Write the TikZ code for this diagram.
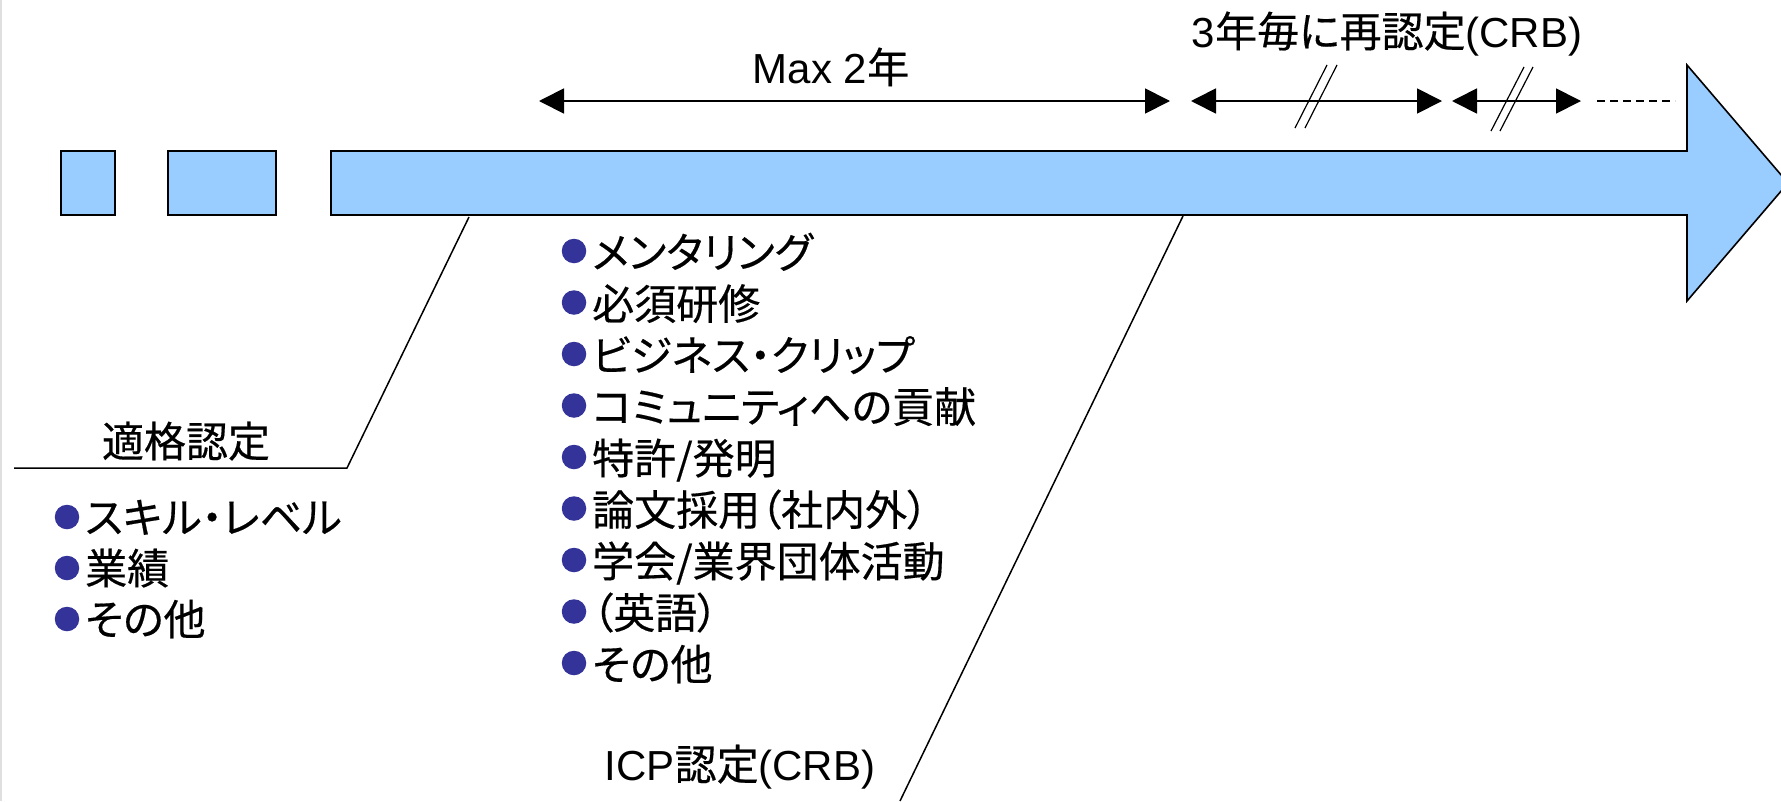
\documentclass[tikz,border=0pt]{standalone}
\usepackage{fontspec}
\setmainfont{Liberation Sans}
\newfontfamily\jp[RawFeature=+palt,FakeBold=0.4]{Noto Sans CJK JP}
\usetikzlibrary{arrows.meta}
\definecolor{barblue}{HTML}{99CCFF}
\definecolor{dotblue}{HTML}{333399}
\begin{document}
\begin{tikzpicture}[x=1pt,y=-1pt,
  bar/.style={draw=black,line width=1.6pt,fill=barblue,line join=miter},
  dimline/.style={line width=1.8pt,{Triangle[length=25pt,width=25pt]}-{Triangle[length=25pt,width=25pt]}},
  breakmark/.style={line width=1.2pt},
  leader/.style={line width=1.5pt},
  lbl/.style={font=\fontsize{42}{50}\selectfont,inner sep=0pt,anchor=base},
  itemtext/.style={font=\fontsize{42}{50}\selectfont,inner sep=0pt,anchor=base west},
  bulletdot/.style={circle,fill=dotblue,minimum size=24.5pt,inner sep=0pt}]
\useasboundingbox (0,0) rectangle (1781,801);
\fill[white] (0,0) rectangle (1781,801);
\draw[gray!25,line width=2pt] (1,0) -- (1,801);

% blocks and main arrow
\node[bar,minimum width=54pt,minimum height=64pt,inner sep=0pt] (s1) at (88,183) {};
\node[bar,minimum width=108pt,minimum height=64pt,inner sep=0pt] (s2) at (222,183) {};
\draw[bar] (331,151) -- (1687,151) -- (1687,65) -- (1788,183) -- (1687,301) -- (1687,215) -- (331,215) -- cycle;

% dimension arrows
\coordinate (a1l) at (539,101);
\coordinate (a1r) at (1170,101);
\coordinate (a2l) at (1191,101);
\coordinate (a2r) at (1442,101);
\coordinate (a3l) at (1452,101);
\coordinate (a3r) at (1581,101);
\coordinate (d1) at (1597,101);
\coordinate (d2) at (1675,101);
\draw[dimline] (a1l) -- (a1r);
\draw[dimline] (a2l) -- (a2r);
\draw[dimline] (a3l) -- (a3r);
\draw[line width=1.5pt,dash pattern=on 8pt off 5pt] (d1) -- (d2);

% break marks
\coordinate (b1a) at (1295,128); \coordinate (b1b) at (1327,65);
\coordinate (b1c) at (1305,128); \coordinate (b1d) at (1337,65);
\coordinate (b2a) at (1491,131); \coordinate (b2b) at (1524,67);
\coordinate (b2c) at (1500,131); \coordinate (b2d) at (1533,67);
\draw[breakmark] (b1a) -- (b1b);
\draw[breakmark] (b1c) -- (b1d);
\draw[breakmark] (b2a) -- (b2b);
\draw[breakmark] (b2c) -- (b2d);

% labels
\node[lbl] (max) at (831,83) {Max 2{\jp 年}};
\node[lbl] (recert) at (1387,47) {3{\jp 年毎に再認定}(CRB)};
\node[lbl] (icp) at (740,780) {ICP{\jp 認定}(CRB)};
\node[lbl] (tekikaku) at (186,457) {\jp 適格認定};

% leader lines
\coordinate (l1top) at (469,217);
\coordinate (l1knee) at (347,468);
\coordinate (l1end) at (14,468);
\draw[leader] (l1top) -- (l1knee) -- (l1end);
\coordinate (l2top) at (1183,216);
\coordinate (l2end) at (900,801);
\draw[leader] (l2top) -- (l2end);

% left list
\foreach \txt [count=\i from 0] in {スキル・レベル,業績,その他} {
  \node[bulletdot] (lb\i) at ({67},{517+51*\i}) {};
  \node[itemtext] (lt\i) at ({85},{533+51*\i}) {\jp \txt};
}

% middle list
\foreach \txt [count=\i from 0] in {メンタリング,必須研修,ビジネス・クリップ,コミュニティへの貢献,特許/発明,論文採用（社内外）,学会/業界団体活動,（英語）,その他} {
  \node[bulletdot] (mb\i) at ({574},{251+51.5*\i}) {};
  \node[itemtext] (mt\i) at ({592},{268+51.5*\i}) {\jp \txt};
}
\end{tikzpicture}
\end{document}
